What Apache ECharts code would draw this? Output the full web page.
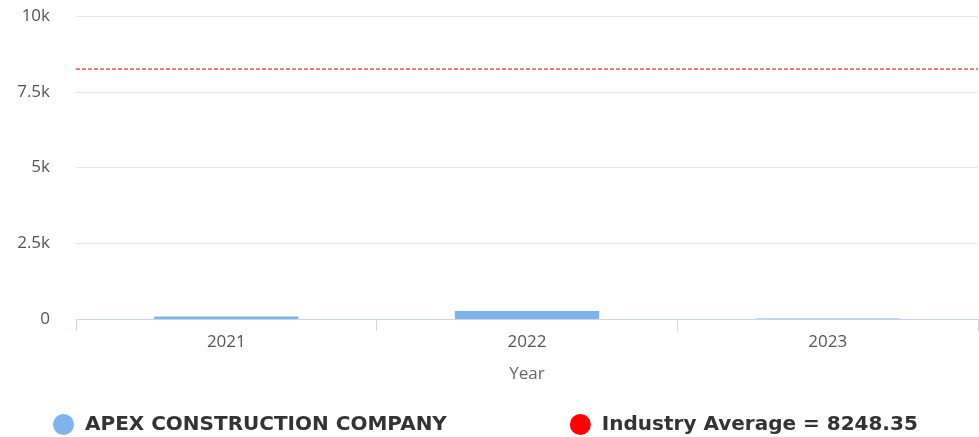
<!DOCTYPE html>
<html>
<head>
<meta charset="utf-8">
<script src="https://cdn.jsdelivr.net/npm/echarts@6/dist/echarts.min.js"></script>
<style>
html,body{margin:0;padding:0;background:#fff;}
#chart{width:979px;height:437px;}
</style>
</head>
<body>
<div id="chart"></div>
<script>
var years = ['2021', '2022', '2023'];
var companyValues = [80, 260, 15];
var industryAverage = 8248.35;
var companyName = 'APEX CONSTRUCTION COMPANY';
var avgName = 'Industry Average = 8248.35';
// the average line runs edge to edge on a hidden helper axis
var avgEnds = ['start', 'end'];
var avgValues = [industryAverage, industryAverage];

var chart = echarts.init(document.getElementById('chart'));
chart.setOption({
    animation: false,
    grid: {
        left: 76,
        right: 1,
        top: 16,
        bottom: 118
    },
    legend: {
        top: 409,
        left: 48,
        itemGap: 123,
        icon: 'circle',
        itemWidth: 21,
        itemHeight: 21,
        textStyle: {
            color: '#333',
            fontSize: 20,
            fontWeight: 'bold',
            fontFamily: 'DejaVu Sans',
            padding: [0, 0, 0, 6]
        },
        data: [companyName, avgName]
    },
    xAxis: [{
        type: 'category',
        data: years,
        name: 'Year',
        nameLocation: 'middle',
        nameGap: 47,
        nameTextStyle: { color: '#666', fontSize: 17, fontFamily: 'Open Sans' },
        axisLine: { lineStyle: { color: '#ccd6eb' } },
        axisTick: { show: true, length: 12, lineStyle: { color: '#ccd6eb' } },
        axisLabel: { color: '#555', fontSize: 17, margin: 15, fontFamily: 'Open Sans' }
    }, {
        type: 'category',
        data: avgEnds,
        boundaryGap: false,
        show: false
    }],
    yAxis: {
        type: 'value',
        min: 0,
        max: 10000,
        interval: 2500,
        axisLine: { show: false },
        axisTick: { show: false },
        splitLine: { lineStyle: { color: '#e6e6e6' } },
        axisLabel: {
            color: '#555',
            fontSize: 17,
            margin: 26,
            fontFamily: 'Open Sans',
            formatter: function (v) {
                return v === 0 ? '0' : (v / 1000) + 'k';
            }
        }
    },
    series: [
        {
            name: companyName,
            type: 'bar',
            barWidth: '48%',
            itemStyle: { color: '#7cb5ec' },
            data: companyValues
        },
        {
            name: avgName,
            type: 'line',
            xAxisIndex: 1,
            symbol: 'none',
            silent: true,
            itemStyle: { color: '#ff0000' },
            lineStyle: { color: '#e00000', type: [4, 2], width: 1 },
            data: avgValues
        }
    ]
});
</script>
</body>
</html>
